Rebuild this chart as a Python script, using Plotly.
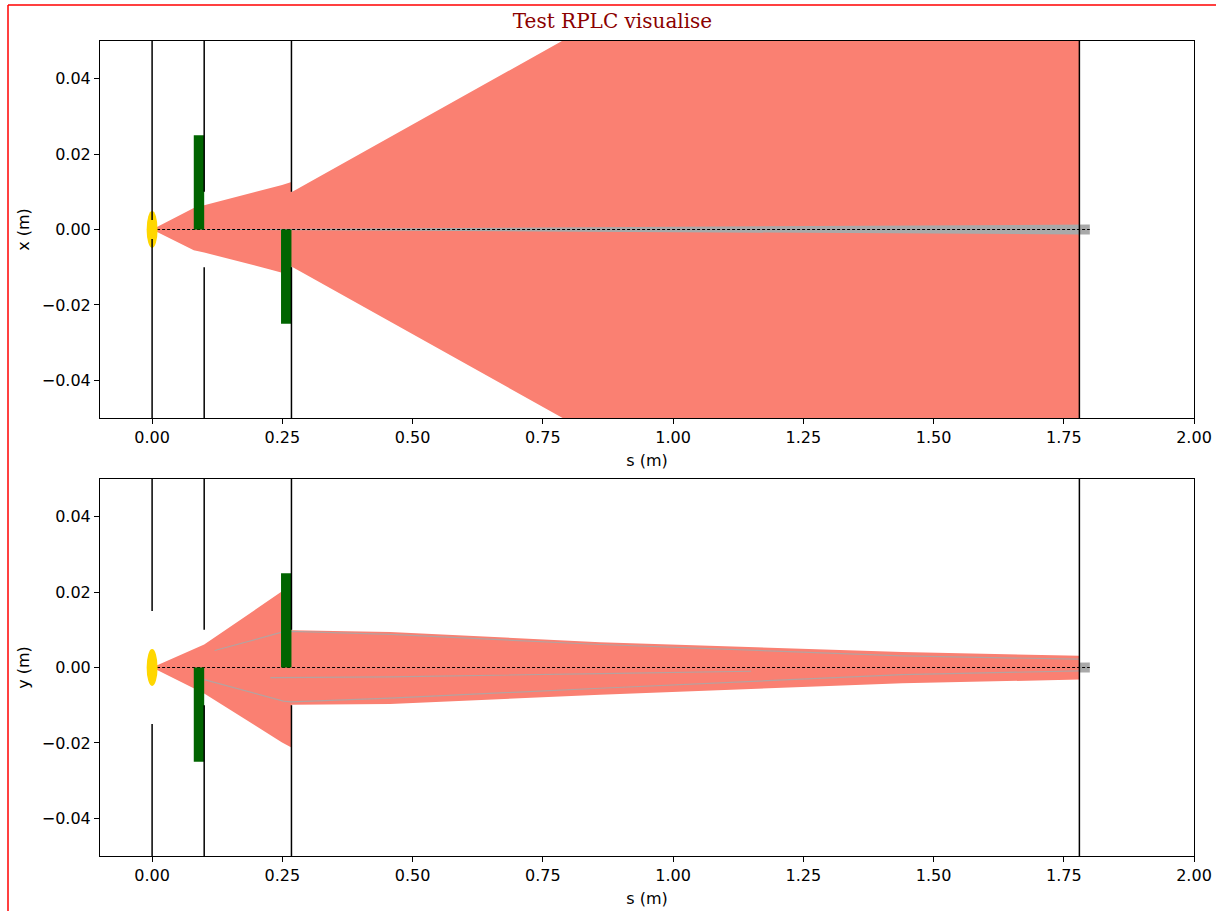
import plotly.graph_objects as go
from plotly.subplots import make_subplots

# ---------------- lattice ----------------
# apertures: longitudinal position and half-opening in each plane (0 = closed screen)
aperture_s = [0.0, 0.1, 0.2675, 1.78]
aperture_x = [0.0025, 0.01, 0.01, 0.0]
aperture_y = [0.015, 0.01, 0.01, 0.0]

# quadrupoles: start/end and signed drawing height per plane
quad_start = [0.08, 0.2475]
quad_end = [0.10, 0.2675]
quad_x = [0.025, -0.025]
quad_y = [-0.025, 0.025]

source_s = 0.0
beam_end_s = 1.80

# ---------------- tracked beam envelope, x plane ----------------
env_x_s = [0.0, 0.08, 0.10, 0.2265, 0.2495, 0.2675, 0.2675, 1.78]
env_x_hi = [0.0, 0.0057, 0.0064, 0.0108, 0.0118, 0.0126, 0.0099, 0.1267]
env_x_lo = [0.0, -0.0055, -0.0061, -0.0106, -0.0115, -0.0118, -0.0098, -0.1266]

# ---------------- tracked beam envelope, y plane ----------------
env_y_s = [0.0, 0.08, 0.10, 0.2495, 0.2675, 0.2675, 0.457, 0.86, 1.44, 1.78]
env_y_hi = [0.0, 0.0049, 0.0061, 0.0202, 0.0210, 0.0099, 0.0094, 0.0067, 0.0041, 0.0031]
env_y_lo = [0.0, -0.0055, -0.0069, -0.0199, -0.0212, -0.0099, -0.0097, -0.0072, -0.0042, -0.0032]

# ---------------- reference beam (grey) ----------------
ref_s = [0.0, 0.3, 0.75, 1.78, 1.80]
ref_half = [0.0, 0.0002, 0.0005, 0.0013, 0.0013]

# individual reference rays visible in the y plane
ray1_s = [0.12, 0.2475, 0.2675, 0.457, 0.86, 1.44, 1.78]
ray1_y = [0.0045, 0.0093, 0.0096, 0.0088, 0.0061, 0.0031, 0.0022]
ray2_s = [0.10, 0.252, 0.267, 0.457, 0.86, 1.44, 1.78]
ray2_y = [-0.0032, -0.0089, -0.0091, -0.0081, -0.0055, -0.0019, -0.0009]
ray3_s = [0.227, 0.457, 0.86, 1.15]
ray3_y = [-0.0027, -0.0025, -0.0016, -0.0010]

# ---------------- axes ----------------
s_ticks = [0.0, 0.25, 0.5, 0.75, 1.0, 1.25, 1.5, 1.75, 2.0]
s_labels = ["0.00", "0.25", "0.50", "0.75", "1.00", "1.25", "1.50", "1.75", "2.00"]
t_ticks = [-0.04, -0.02, 0.0, 0.02, 0.04]
t_labels = ["\u22120.04", "\u22120.02", "0.00", "0.02", "0.04"]
s_range = [-0.1, 2.0]
t_range = [-0.05, 0.05]

SALMON = "#FA8072"
GREY = "#A9A9A9"
GREEN = "#006400"
GOLD = "#FFD700"

fig = make_subplots(rows=2, cols=1, vertical_spacing=61 / 815)


def polygon(s, hi, lo):
    return list(s) + list(s)[::-1], list(hi) + list(lo)[::-1]


def add_fill(s, hi, lo, color, row):
    px, py = polygon(s, hi, lo)
    fig.add_trace(go.Scatter(x=px, y=py, mode="lines", fill="toself",
                             fillcolor=color, line=dict(width=0, color=color),
                             hoverinfo="skip"), row=row, col=1)


# x plane: tracked beam, then reference beam on top
add_fill(env_x_s, env_x_hi, env_x_lo, SALMON, 1)
add_fill(ref_s, ref_half, [-v for v in ref_half], GREY, 1)

# y plane: reference beam underneath, tracked beam, then reference rays
add_fill(ref_s, ref_half, [-v for v in ref_half], GREY, 2)
add_fill(env_y_s, env_y_hi, env_y_lo, SALMON, 2)
for rs, ry in [(ray1_s, ray1_y), (ray2_s, ray2_y), (ray3_s, ray3_y)]:
    fig.add_trace(go.Scatter(x=rs, y=ry, mode="lines",
                             line=dict(color=GREY, width=1.2), opacity=0.85,
                             hoverinfo="skip"), row=2, col=1)

# design orbit
for row in (1, 2):
    fig.add_trace(go.Scatter(x=[source_s, beam_end_s], y=[0.0, 0.0], mode="lines",
                             line=dict(color="black", width=1, dash="3px,2px"),
                             hoverinfo="skip"), row=row, col=1)

shapes = []
planes = [("x", "y", quad_x, aperture_x), ("x2", "y2", quad_y, aperture_y)]
for xr, yr, qh, ap in planes:
    # quadrupoles
    for s0, s1, h in zip(quad_start, quad_end, qh):
        shapes.append(dict(type="rect", xref=xr, yref=yr, x0=s0, x1=s1,
                           y0=0, y1=h, fillcolor=GREEN, line=dict(width=0),
                           layer="above"))
    # source
    shapes.append(dict(type="circle", xref=xr, yref=yr,
                       x0=source_s - 0.0105, x1=source_s + 0.0105,
                       y0=-0.0049, y1=0.0049, fillcolor=GOLD,
                       line=dict(width=0), layer="above"))
    # apertures
    for s, g in zip(aperture_s, ap):
        if g > 0:
            segs = [(g, t_range[1]), (-g, t_range[0])]
        else:
            segs = [(t_range[0], t_range[1])]
        for a, b in segs:
            shapes.append(dict(type="line", xref=xr, yref=yr, x0=s, x1=s,
                               y0=a, y1=b, line=dict(color="black", width=1.5),
                               layer="above"))

# figure frame
shapes.append(dict(type="line", xref="paper", yref="paper",
                   x0=(8 - 100) / 1094, x1=(8 - 100) / 1094,
                   y0=1 + 36 / 815, y1=-0.2, line=dict(color="red", width=1.5)))
shapes.append(dict(type="line", xref="paper", yref="paper",
                   x0=(8 - 100) / 1094, x1=1.2,
                   y0=1 + 36 / 815, y1=1 + 36 / 815, line=dict(color="red", width=1.5)))

tick_font = dict(family="DejaVu Sans", size=16, color="black")
axis_common = dict(showline=True, mirror=True, linecolor="black", linewidth=1,
                   ticks="outside", ticklen=5, tickwidth=1, tickcolor="black",
                   showgrid=False, zeroline=False, tickfont=tick_font,
                   automargin=False)

for row, lab in [(1, "x (m)"), (2, "y (m)")]:
    fig.update_xaxes(range=s_range, tickvals=s_ticks, ticktext=s_labels,
                     title=dict(text="s (m)", font=tick_font, standoff=8),
                     row=row, col=1, **axis_common)
    fig.update_yaxes(range=t_range, tickvals=t_ticks, ticktext=t_labels,
                     title=dict(text=lab, font=tick_font, standoff=8),
                     row=row, col=1, **axis_common)

fig.update_layout(
    width=1216, height=911,
    margin=dict(l=100, r=22, t=41, b=55),
    paper_bgcolor="white", plot_bgcolor="white",
    showlegend=False,
    shapes=shapes,
    title=dict(text="Test RPLC visualise", xref="container", yref="container",
               x=612.5 / 1216, xanchor="center", y=1 - 20.5 / 911, yanchor="middle",
               font=dict(family="DejaVu Serif", size=20, color="#8B0000")),
)

fig.write_html("out.html")
